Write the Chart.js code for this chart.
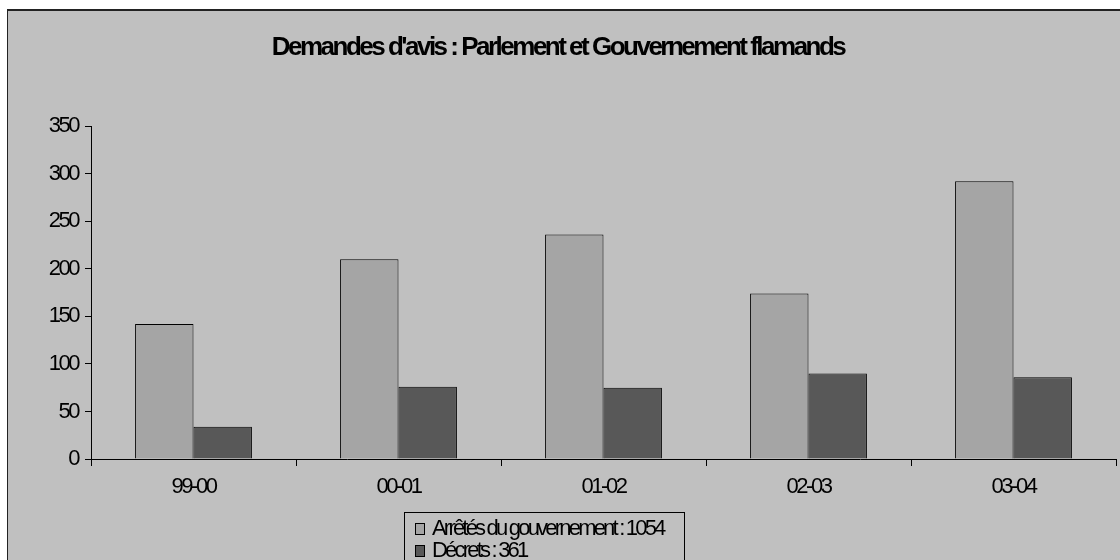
<!DOCTYPE html>
<html>
<head>
<meta charset="utf-8">
<script src="https://cdn.jsdelivr.net/npm/chart.js@4/dist/chart.umd.min.js"></script>
<style>
  html, body { margin: 0; padding: 0; background: #fff; }
</style>
</head>
<body>
<canvas id="chart" width="1120" height="560"></canvas>
<script>
// data
const periods = ["99-00", "00-01", "01-02", "02-03", "03-04"];
const arretes = [142, 210, 236, 174, 292];
const decrets = [34, 76, 75, 90, 86];
const seriesNames = ["Arrêtés du gouvernement", "Décrets"];
const seriesColors = ["#a5a5a5", "#585858"];
const yMax = 350;
const yStep = 50;

const total = (arr) => arr.reduce((a, b) => a + b, 0);
const FONT = "'Liberation Sans', Arial, sans-serif";

// Excel-style tight text + grey frame
const tightText = {
  id: "tightText",
  beforeLayout(chart) {
    chart.ctx.letterSpacing = "-2.5px";
  },
  beforeDraw(chart) {
    const ctx = chart.ctx;
    const w = chart.width, h = chart.height;
    ctx.letterSpacing = "-2.5px";
    ctx.save();
    ctx.fillStyle = "#fff";
    ctx.fillRect(0, 0, w, h);
    ctx.fillStyle = "#c0c0c0";
    ctx.fillRect(8, 11, w - 8, h - 11);
    ctx.fillStyle = "#222";
    ctx.fillRect(7, 9, w - 7, 2);
    ctx.fillRect(7, 9, 1, h - 9);
    ctx.restore();
  },
};

// legend in a box, items stacked
const boxLegend = {
  id: "boxLegend",
  afterDraw(chart) {
    const ctx = chart.ctx;
    ctx.save();
    ctx.letterSpacing = "-2.8px";
    ctx.font = "22px " + FONT;
    ctx.strokeStyle = "#000";
    ctx.lineWidth = 1;
    ctx.strokeRect(404.5, 512.5, 280, 60);
    chart.data.datasets.forEach((ds, i) => {
      const y = 523 + i * 22;
      ctx.fillStyle = ds.backgroundColor;
      ctx.fillRect(415, y, 10, 12);
      ctx.strokeStyle = "#000";
      ctx.strokeRect(415.5, y + 0.5, 9, 11);
      ctx.fillStyle = "#000";
      ctx.textBaseline = "alphabetic";
      ctx.fillText(ds.label, 432, y + 12);
    });
    ctx.restore();
  },
};

new Chart(document.getElementById("chart"), {
  type: "bar",
  data: {
    labels: periods,
    datasets: [
      {
        label: seriesNames[0] + " : " + total(arretes),
        data: arretes,
        backgroundColor: seriesColors[0],
        borderColor: "#000",
        borderWidth: 1,
      },
      {
        label: seriesNames[1] + " : " + total(decrets),
        data: decrets,
        backgroundColor: seriesColors[1],
        borderColor: "#000",
        borderWidth: 1,
      },
    ],
  },
  options: {
    responsive: false,
    animation: false,
    devicePixelRatio: 1,
    layout: { padding: { top: 0, right: 4, bottom: 0, left: 0 } },
    datasets: { bar: { categoryPercentage: 0.57, barPercentage: 1 } },
    plugins: {
      legend: { display: false },
      tooltip: { enabled: false },
      title: {
        display: true,
        text: "Demandes d'avis : Parlement et Gouvernement flamands",
        color: "#000",
        font: { family: FONT, size: 26, weight: "bold" },
        padding: { top: 32, bottom: 63 },
      },
    },
    scales: {
      x: {
        grid: { drawOnChartArea: false, tickLength: 7, color: "#000" },
        border: { color: "#000" },
        ticks: { color: "#000", font: { family: FONT, size: 22 }, padding: 8 },
        afterFit: (s) => { s.height = 101; },
      },
      y: {
        min: 0,
        max: yMax,
        ticks: { stepSize: yStep, color: "#000", font: { family: FONT, size: 22 }, padding: 7 },
        grid: { drawOnChartArea: false, tickLength: 6, color: "#000" },
        border: { color: "#000" },
        afterFit: (s) => { s.width = 91; },
      },
    },
  },
  plugins: [tightText, boxLegend],
});
</script>
</body>
</html>
